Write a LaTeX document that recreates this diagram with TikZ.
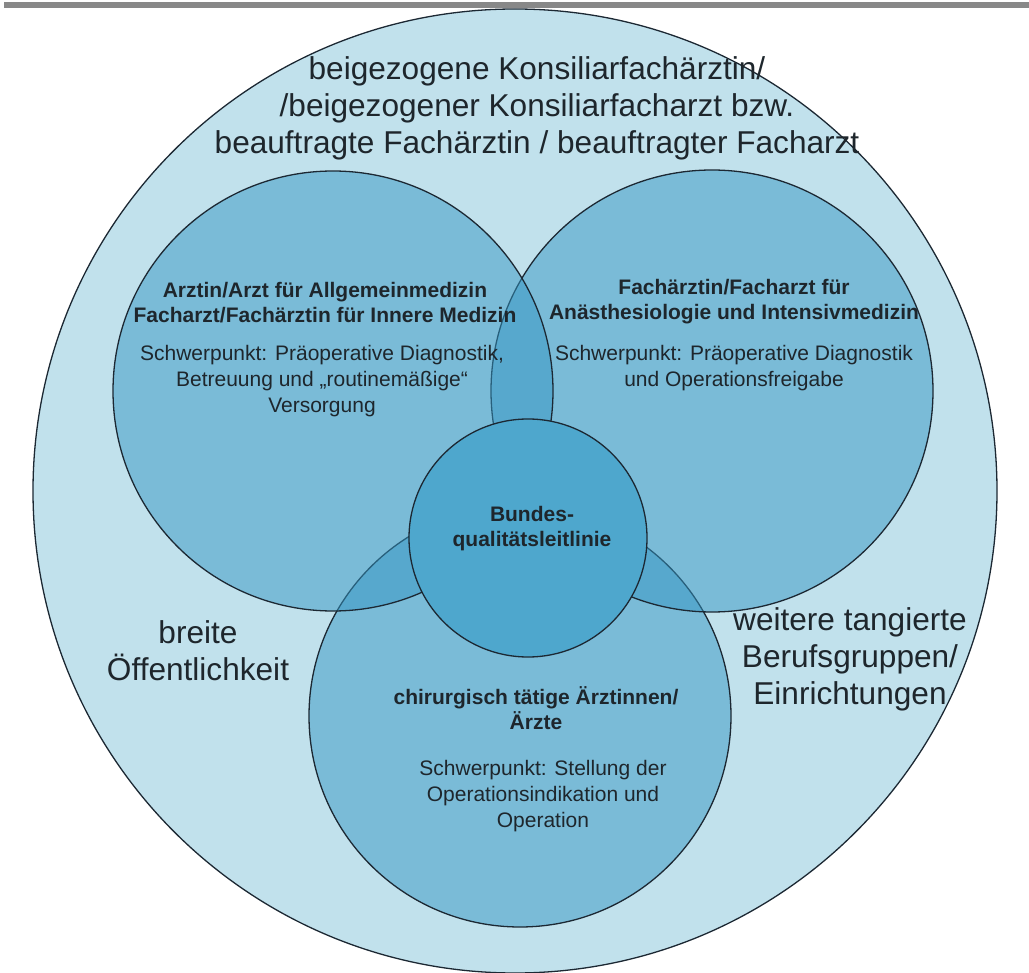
\documentclass[tikz,border=0pt]{standalone}
\usepackage{fontspec}
\setmainfont{Liberation Sans}
\usepackage{tikz}
\definecolor{outerfill}{HTML}{C1E1EC}
\definecolor{ringfill}{HTML}{3597C4}
\definecolor{corefill}{HTML}{4EA7CD}
\definecolor{edge}{HTML}{1C2833}
\definecolor{txt}{HTML}{1E262C}
\definecolor{bar}{HTML}{888888}

\begin{document}
\begin{tikzpicture}
  [x=1pt,y=-1pt,every node/.style={align=center,text=txt,inner sep=0pt},
   ring/.style={draw=edge,line width=1.3pt,fill=ringfill,fill opacity=.5},
   big/.style={font=\fontsize{31.6}{37}\selectfont},
   small/.style={font=\fontsize{21}{26}\selectfont},
   smallbf/.style={font=\fontsize{21}{25}\selectfont\bfseries}]
  \useasboundingbox (0,0) rectangle (1029,973);
  \fill[bar] (4,2) rectangle (1029,8);

  % circles
  \draw[draw=edge,line width=1.3pt,fill=outerfill] (515,491) circle (482pt);
  \draw[ring] (520,716) circle (211pt);
  \draw[ring] (712,391) circle (221pt);
  \draw[ring] (333,391) circle (220pt);
  \draw[draw=edge,line width=1.3pt,fill=corefill] (528,538) circle (119pt);

  \node[big] (kons) at (537,108) {beigezogene Konsiliarfachärztin/\\/beigezogener Konsiliarfacharzt bzw.\\beauftragte Fachärztin / beauftragter Facharzt};
  \node[big] (oeff) at (198,651) {breite\\Öffentlichkeit};
  \node[big] (weit) at (850,659) {weitere tangierte\\Berufsgruppen/\\Einrichtungen};

  \node[smallbf] (alltitle) at (325,303) {Arztin/Arzt für Allgemeinmedizin\\Facharzt/Fachärztin für Innere Medizin};
  \node[small] (alldesc) at (322,381) {Schwerpunkt: Präoperative Diagnostik,\\Betreuung und „routinemäßige“\\Versorgung};

  \node[smallbf] (anatitle) at (734,302) {Fachärztin/Facharzt für\\Anästhesiologie und Intensivmedizin};
  \node[small] (anadesc) at (734,368) {Schwerpunkt: Präoperative Diagnostik\\und Operationsfreigabe};

  \node[smallbf] (chititle) at (536,708) {chirurgisch tätige Ärztinnen/\\Ärzte};
  \node[small] (chidesc) at (543,796) {Schwerpunkt: Stellung der\\Operationsindikation und\\Operation};

  \node[smallbf] (bql) at (532,529) {Bundes-\\qualitätsleitlinie};
\end{tikzpicture}
\end{document}
